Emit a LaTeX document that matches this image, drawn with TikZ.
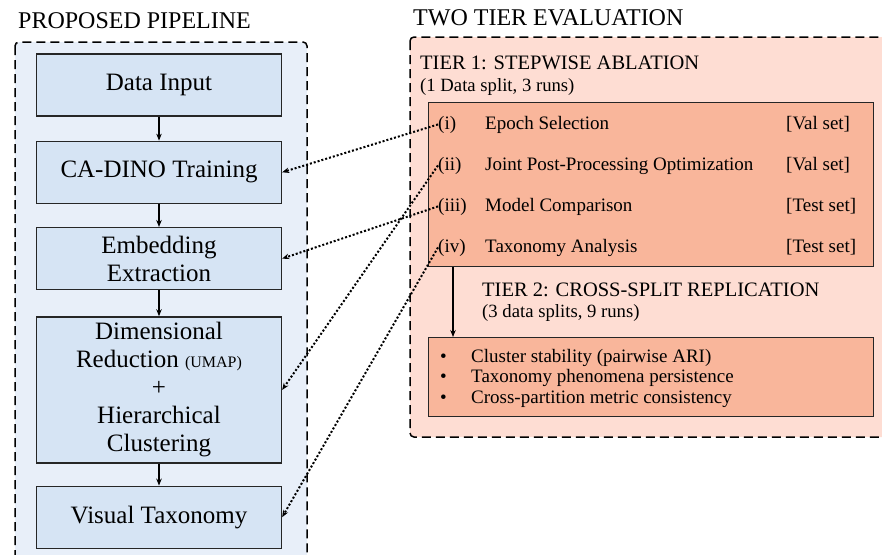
\documentclass[tikz,border=0pt]{standalone}
\usepackage{fontspec}
\setmainfont{Liberation Serif}
\usetikzlibrary{positioning,arrows.meta}

\definecolor{pipeback}{HTML}{E8EFF9}
\definecolor{pipefill}{HTML}{D6E4F4}
\definecolor{evalback}{HTML}{FEDDD3}
\definecolor{evalfill}{HTML}{F9B69B}

\tikzset{
  >={Stealth[length=7pt,width=5.5pt]},
  stage/.style={draw=black!85, line width=1.3pt, fill=pipefill, minimum width=245pt,
    minimum height=62pt, align=center, font=\fontsize{25}{28}\selectfont},
  tierbox/.style={draw=black!85, line width=1.3pt, fill=evalfill, anchor=north west,
    minimum width=445pt},
  panel/.style={line width=1.5pt, dash pattern=on 9pt off 5pt, rounded corners=4pt},
  title/.style={anchor=base west, inner sep=0pt, font=\fontsize{24}{26}\selectfont},
  heading/.style={anchor=base west, inner sep=0pt, font=\fontsize{20.5}{22}\selectfont},
  note/.style={anchor=base west, inner sep=0pt, font=\fontsize{18.7}{20}\selectfont},
  item/.style={anchor=base west, inner sep=0pt, font=\fontsize{19}{20}\selectfont},
  flow/.style={->, line width=1.2pt},
  link/.style={->, line width=2pt, dash pattern=on 2pt off 2pt},
}

\begin{document}
\begin{tikzpicture}[x=1pt, y=-1pt]
    \useasboundingbox (0,0) rectangle (882,554);

    % dashed panels behind everything
    \draw[panel, fill=pipeback] (15,42) rectangle (307,575);
    \draw[panel, fill=evalback] (410,37) rectangle (900,437);

    \node[title] (pipetitle) at (18,28) {PROPOSED PIPELINE};
    \node[title] (evaltitle) at (413,25) {TWO TIER EVALUATION};

    % pipeline stages
    \node[stage] (input) at (159,85) {Data Input};
    \node[stage, below=24pt of input] (train) {CA-DINO Training};
    \node[stage, below=23pt of train] (embed) {Embedding\\Extraction};
    \node[stage, below=26pt of embed, minimum height=146pt] (reduce)
        {Dimensional\\Reduction {\fontsize{16}{16}\selectfont(UMAP)}\\+\\Hierarchical\\Clustering};
    \node[stage, below=22pt of reduce] (taxon) {Visual Taxonomy};

    \draw[flow] (input) -- (train);
    \draw[flow] (train) -- (embed);
    \draw[flow] (embed) -- (reduce);
    \draw[flow] (reduce) -- (taxon);

    % tier 1
    \node[heading] (tonetitle) at (420,69) {TIER 1: STEPWISE ABLATION};
    \node[note] (tonenote) at (420,91) {(1 Data split, 3 runs)};
    \node[tierbox, minimum height=164pt] (tierone) at (428,102) {};
    \foreach \n/\lab/\txt/\set/\y in {1/(i)/Epoch Selection/Val set/129,
        2/(ii)/Joint Post-Processing Optimization/Val set/170,
        3/(iii)/Model Comparison/Test set/211,
        4/(iv)/Taxonomy Analysis/Test set/252}
    {
        \node[item] (step\n) at (438,\y) {\lab};
        \node[item] (what\n) at (485,\y) {\txt};
        \node[item] (split\n) at (786,\y) {[\set]};
    }

    % tier 2
    \node[heading] (ttwotitle) at (482,296) {TIER 2: CROSS-SPLIT REPLICATION};
    \node[note] (ttwonote) at (482,317) {(3 data splits, 9 runs)};
    \node[tierbox, minimum height=79pt] (tiertwo) at (428,337) {};
    \foreach \n/\txt/\y in {1/Cluster stability (pairwise ARI)/362,
        2/Taxonomy phenomena persistence/382,
        3/Cross-partition metric consistency/403}
    {
        \node[item] (dot\n) at (440,\y) {\textbullet};
        \node[item] (check\n) at (471,\y) {\txt};
    }
    \draw[flow] ([xshift=25pt]tierone.south west) -- ([xshift=25pt]tiertwo.north west);

    % which step feeds which stage
    \draw[link] (step1.west) -- (train.east);
    \draw[link] (step2.west) -- (reduce.east);
    \draw[link] (step3.west) -- (embed.east);
    \draw[link] (step4.west) -- (taxon.east);
\end{tikzpicture}
\end{document}
